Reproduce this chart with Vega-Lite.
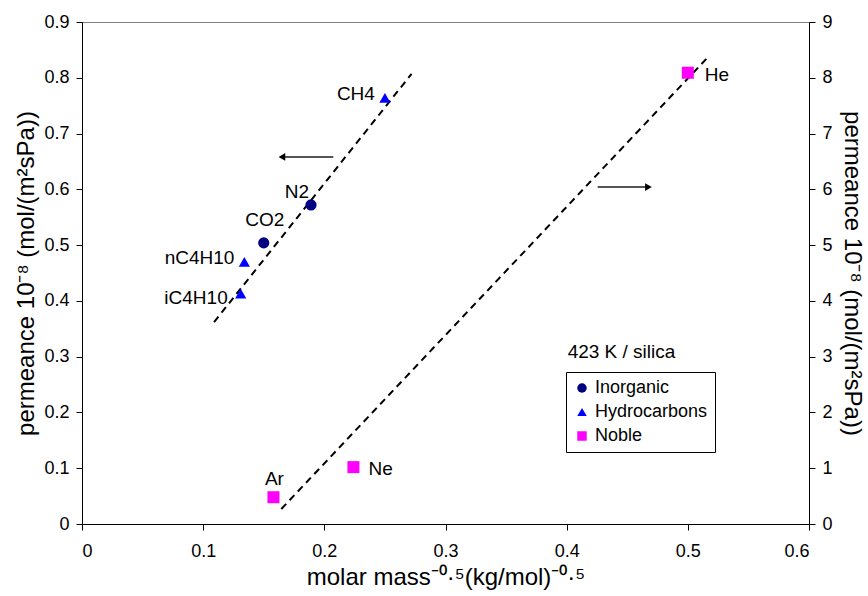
{
  "$schema": "https://vega.github.io/schema/vega-lite/v6.json",
  "width": 727,
  "height": 502,
  "autosize": {"type": "none"},
  "padding": {"left": 82, "top": 22, "right": 59, "bottom": 72},
  "background": "white",
  "view": {"stroke": "#808080", "strokeWidth": 1},
  "config": {
    "font": "Liberation Sans",
    "axis": {
      "labelFont": "Liberation Sans",
      "labelFontSize": 18,
      "labelColor": "black",
      "domainColor": "black",
      "domainWidth": 1,
      "tickColor": "black",
      "tickSize": 6,
      "grid": false,
      "titleFont": "Liberation Sans",
      "titleFontSize": 24,
      "titleFontWeight": "normal",
      "titleColor": "black"
    },
    "legend": {
      "labelFont": "Liberation Sans",
      "labelFontSize": 18,
      "labelColor": "black"
    }
  },
  "datasets": {
    "points": [
      {"gas": "CH4", "x": 0.250, "y": 0.764, "group": "Hydrocarbons"},
      {"gas": "N2", "x": 0.189, "y": 0.572, "group": "Inorganic"},
      {"gas": "CO2", "x": 0.150, "y": 0.504, "group": "Inorganic"},
      {"gas": "nC4H10", "x": 0.134, "y": 0.470, "group": "Hydrocarbons"},
      {"gas": "iC4H10", "x": 0.131, "y": 0.413, "group": "Hydrocarbons"}
    ],
    "noble": [
      {"gas": "He", "x": 0.500, "y": 8.09, "group": "Noble"},
      {"gas": "Ne", "x": 0.224, "y": 1.02, "group": "Noble"},
      {"gas": "Ar", "x": 0.158, "y": 0.48, "group": "Noble"}
    ],
    "fitLeft": [{"x": 0.109, "y": 0.362}, {"x": 0.272, "y": 0.807}],
    "fitRight": [{"x": 0.1645, "y": 0.27}, {"x": 0.5175, "y": 8.39}],
    "arrowLeft": [{"x1": 0.2074, "x2": 0.1650, "y": 0.658}],
    "arrowRight": [{"x1": 0.4256, "x2": 0.4675, "y": 6.04}],
    "note": [{"x": 0.4008, "y": 0.308, "label": "423 K / silica"}]
  },
  "layer": [
    {
      "layer": [
        {
          "data": {"name": "fitLeft"},
          "mark": {"type": "line", "color": "black", "strokeWidth": 2, "strokeDash": [7, 5]},
          "encoding": {
            "x": {"field": "x", "type": "quantitative"},
            "y": {"field": "y", "type": "quantitative"}
          }
        },
        {
          "data": {"name": "arrowLeft"},
          "mark": {"type": "rule", "color": "#555555", "strokeWidth": 2},
          "encoding": {
            "x": {"field": "x1", "type": "quantitative"},
            "x2": {"field": "x2"},
            "y": {"field": "y", "type": "quantitative"}
          }
        },
        {
          "data": {"name": "arrowLeft"},
          "mark": {"type": "point", "shape": "triangle-left", "filled": true, "color": "black", "size": 60, "opacity": 1},
          "encoding": {
            "x": {"field": "x2", "type": "quantitative"},
            "y": {"field": "y", "type": "quantitative"}
          }
        },
        {
          "data": {"name": "points"},
          "mark": {"type": "point", "filled": true, "opacity": 1, "size": 125},
          "encoding": {
            "x": {"field": "x", "type": "quantitative"},
            "y": {"field": "y", "type": "quantitative"},
            "color": {
              "field": "group", "type": "nominal",
              "scale": {"domain": ["Inorganic", "Hydrocarbons", "Noble"], "range": ["#000080", "#0000FF", "#FF00FF"]},
              "legend": {"orient": "none", "legendX": 484, "legendY": 350, "title": null, "strokeColor": "black", "fillColor": "white", "padding": 7, "symbolSize": 90, "rowPadding": 6, "labelOffset": 4, "symbolStrokeWidth": 0}
            },
            "shape": {
              "field": "group", "type": "nominal",
              "scale": {"domain": ["Inorganic", "Hydrocarbons", "Noble"], "range": ["circle", "triangle-up", "square"]},
              "legend": {"orient": "none", "legendX": 484, "legendY": 350, "title": null, "strokeColor": "black", "fillColor": "white", "padding": 7, "symbolSize": 90, "rowPadding": 6, "labelOffset": 4, "symbolStrokeWidth": 0}
            }
          }
        },
        {
          "data": {"name": "points"},
          "transform": [{"filter": "datum.gas == 'CH4' || datum.gas == 'nC4H10'"}],
          "mark": {"type": "text", "align": "right", "baseline": "middle", "dx": -10, "dy": -4, "fontSize": 19, "color": "black"},
          "encoding": {
            "x": {"field": "x", "type": "quantitative"},
            "y": {"field": "y", "type": "quantitative"},
            "text": {"field": "gas"}
          }
        },
        {
          "data": {"name": "points"},
          "transform": [{"filter": "datum.gas == 'iC4H10'"}],
          "mark": {"type": "text", "align": "right", "baseline": "middle", "dx": -13, "dy": 4, "fontSize": 19, "color": "black"},
          "encoding": {
            "x": {"field": "x", "type": "quantitative"},
            "y": {"field": "y", "type": "quantitative"},
            "text": {"field": "gas"}
          }
        },
        {
          "data": {"name": "points"},
          "transform": [{"filter": "datum.gas == 'N2'"}],
          "mark": {"type": "text", "align": "right", "baseline": "middle", "dx": -2, "dy": -13, "fontSize": 19, "color": "black"},
          "encoding": {
            "x": {"field": "x", "type": "quantitative"},
            "y": {"field": "y", "type": "quantitative"},
            "text": {"field": "gas"}
          }
        },
        {
          "data": {"name": "points"},
          "transform": [{"filter": "datum.gas == 'CO2'"}],
          "mark": {"type": "text", "align": "center", "baseline": "middle", "dx": 1, "dy": -23, "fontSize": 19, "color": "black"},
          "encoding": {
            "x": {"field": "x", "type": "quantitative"},
            "y": {"field": "y", "type": "quantitative"},
            "text": {"field": "gas"}
          }
        },
        {
          "data": {"name": "note"},
          "mark": {"type": "text", "align": "left", "baseline": "middle", "fontSize": 19, "color": "black"},
          "encoding": {
            "x": {"field": "x", "type": "quantitative"},
            "y": {"field": "y", "type": "quantitative"},
            "text": {"field": "label"}
          }
        }
      ],
      "encoding": {
        "x": {
          "scale": {"domain": [0, 0.6], "nice": false, "zero": false},
          "axis": {"values": [0, 0.1, 0.2, 0.3, 0.4, 0.5, 0.6], "format": "~g", "labelPadding": 12, "titlePadding": 5},
          "title": "molar mass⁻⁰·⁵(kg/mol)⁻⁰·⁵"
        },
        "y": {
          "scale": {"domain": [0, 0.9], "nice": false, "zero": false},
          "axis": {"orient": "left", "values": [0, 0.1, 0.2, 0.3, 0.4, 0.5, 0.6, 0.7, 0.8, 0.9], "format": "~g", "labelPadding": 7, "titlePadding": 5},
          "title": "permeance 10⁻⁸ (mol/(m²sPa))"
        }
      }
    },
    {
      "layer": [
        {
          "data": {"name": "fitRight"},
          "mark": {"type": "line", "color": "black", "strokeWidth": 2, "strokeDash": [7, 5]},
          "encoding": {
            "x": {"field": "x", "type": "quantitative"},
            "y": {"field": "y", "type": "quantitative"}
          }
        },
        {
          "data": {"name": "arrowRight"},
          "mark": {"type": "rule", "color": "#555555", "strokeWidth": 2},
          "encoding": {
            "x": {"field": "x1", "type": "quantitative"},
            "x2": {"field": "x2"},
            "y": {"field": "y", "type": "quantitative"}
          }
        },
        {
          "data": {"name": "arrowRight"},
          "mark": {"type": "point", "shape": "triangle-right", "filled": true, "color": "black", "size": 60, "opacity": 1},
          "encoding": {
            "x": {"field": "x2", "type": "quantitative"},
            "y": {"field": "y", "type": "quantitative"}
          }
        },
        {
          "data": {"name": "noble"},
          "mark": {"type": "point", "filled": true, "opacity": 1, "size": 144},
          "encoding": {
            "x": {"field": "x", "type": "quantitative"},
            "y": {"field": "y", "type": "quantitative"},
            "color": {
              "field": "group", "type": "nominal",
              "scale": {"domain": ["Inorganic", "Hydrocarbons", "Noble"], "range": ["#000080", "#0000FF", "#FF00FF"]},
              "legend": {"orient": "none", "legendX": 484, "legendY": 350, "title": null, "strokeColor": "black", "fillColor": "white", "padding": 7, "symbolSize": 90, "rowPadding": 6, "labelOffset": 4, "symbolStrokeWidth": 0}
            },
            "shape": {
              "field": "group", "type": "nominal",
              "scale": {"domain": ["Inorganic", "Hydrocarbons", "Noble"], "range": ["circle", "triangle-up", "square"]},
              "legend": {"orient": "none", "legendX": 484, "legendY": 350, "title": null, "strokeColor": "black", "fillColor": "white", "padding": 7, "symbolSize": 90, "rowPadding": 6, "labelOffset": 4, "symbolStrokeWidth": 0}
            }
          }
        },
        {
          "data": {"name": "noble"},
          "transform": [{"filter": "datum.gas == 'He'"}],
          "mark": {"type": "text", "align": "left", "baseline": "middle", "dx": 17, "dy": 2, "fontSize": 19, "color": "black"},
          "encoding": {
            "x": {"field": "x", "type": "quantitative"},
            "y": {"field": "y", "type": "quantitative"},
            "text": {"field": "gas"}
          }
        },
        {
          "data": {"name": "noble"},
          "transform": [{"filter": "datum.gas == 'Ne'"}],
          "mark": {"type": "text", "align": "left", "baseline": "middle", "dx": 15, "dy": 2, "fontSize": 19, "color": "black"},
          "encoding": {
            "x": {"field": "x", "type": "quantitative"},
            "y": {"field": "y", "type": "quantitative"},
            "text": {"field": "gas"}
          }
        },
        {
          "data": {"name": "noble"},
          "transform": [{"filter": "datum.gas == 'Ar'"}],
          "mark": {"type": "text", "align": "center", "baseline": "middle", "dx": 1, "dy": -18, "fontSize": 19, "color": "black"},
          "encoding": {
            "x": {"field": "x", "type": "quantitative"},
            "y": {"field": "y", "type": "quantitative"},
            "text": {"field": "gas"}
          }
        }
      ],
      "encoding": {
        "x": {
          "scale": {"domain": [0, 0.6], "nice": false, "zero": false},
          "axis": {"values": [0, 0.1, 0.2, 0.3, 0.4, 0.5, 0.6], "format": "~g", "labelPadding": 12, "titlePadding": 5},
          "title": "molar mass⁻⁰·⁵(kg/mol)⁻⁰·⁵"
        },
        "y": {
          "scale": {"domain": [0, 9], "nice": false, "zero": false},
          "axis": {"orient": "right", "values": [0, 1, 2, 3, 4, 5, 6, 7, 8, 9], "format": "~g", "labelPadding": 7, "titlePadding": 7},
          "title": "permeance 10⁻⁸ (mol/(m²sPa))"
        }
      }
    }
  ],
  "resolve": {"scale": {"y": "independent"}, "axis": {"y": "independent"}}
}
